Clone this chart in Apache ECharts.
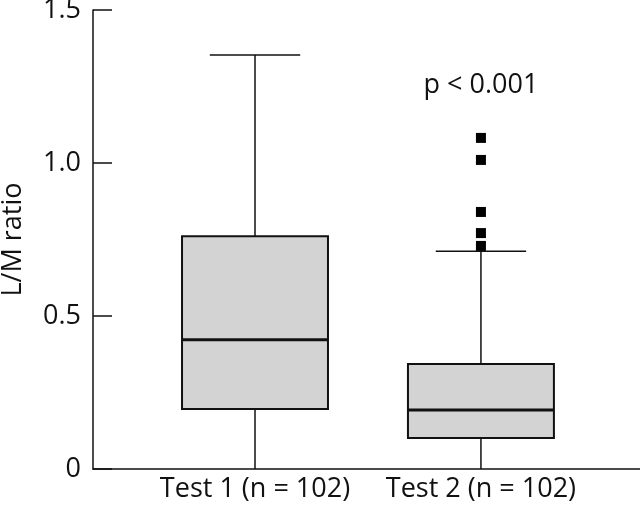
<!DOCTYPE html>
<html>
<head>
<meta charset="utf-8">
<script src="https://cdn.jsdelivr.net/npm/echarts@6/dist/echarts.min.js"></script>
<style>
  html, body { margin: 0; padding: 0; background: #fff; }
  #chart { width: 640px; height: 509px; }
</style>
</head>
<body>
<div id="chart"></div>
<script>
// groups on the x axis
const categories = ['Test 1 (n = 102)', 'Test 2 (n = 102)']
// box statistics per group
const whiskerLow = [0, 0]
const q1 = [0.196, 0.101]
const median = [0.422, 0.193]
const q3 = [0.761, 0.343]
const whiskerHigh = [1.353, 0.712]
// outliers of Test 2
const outliers2 = [1.082, 1.01, 0.84, 0.771, 0.729]
const pText = 'p < 0.001'
const pValueY = 1.255

const font = '"Open Sans", Lato, sans-serif'
const fontSize = 27

const boxData = categories.map((c, i) => [i + 1, whiskerLow[i], q1[i], median[i], q3[i], whiskerHigh[i]])
const outlierData = outliers2.map(v => [2, v])

const chart = echarts.init(document.getElementById('chart'))

const renderBox = (params, api) => {
  const x = api.value(0)
  const halfBox = 0.323
  const halfCap = 0.2
  const pLow = api.coord([x, api.value(1)])
  const pQ1 = api.coord([x, api.value(2)])
  const pMed = api.coord([x, api.value(3)])
  const pQ3 = api.coord([x, api.value(4)])
  const pHigh = api.coord([x, api.value(5)])
  const left = api.coord([x - halfBox, 0])[0]
  const right = api.coord([x + halfBox, 0])[0]
  const capL = api.coord([x - halfCap, 0])[0]
  const capR = api.coord([x + halfCap, 0])[0]
  const children = [
    { type: 'line', shape: { x1: pHigh[0], y1: pHigh[1], x2: pQ3[0], y2: pQ3[1] }, style: { stroke: '#111', lineWidth: 1.5 } },
    { type: 'line', shape: { x1: pLow[0], y1: pLow[1], x2: pQ1[0], y2: pQ1[1] }, style: { stroke: '#111', lineWidth: 1.5 } },
    { type: 'line', shape: { x1: capL, y1: pHigh[1], x2: capR, y2: pHigh[1] }, style: { stroke: '#111', lineWidth: 1.5 } },
    { type: 'rect', shape: { x: left, y: pQ3[1], width: right - left, height: pQ1[1] - pQ3[1] }, style: { fill: '#d3d3d3', stroke: '#111', lineWidth: 2 } },
    { type: 'line', shape: { x1: left, y1: pMed[1], x2: right, y2: pMed[1] }, style: { stroke: '#111', lineWidth: 3 } }
  ]
  if (params.dataIndex === 1) {
    const pt = api.coord([x, pValueY])
    children.push({
      type: 'text',
      style: { x: pt[0], y: pt[1], text: pText, fill: '#111', font: fontSize + 'px ' + font, align: 'center', verticalAlign: 'middle' }
    })
  }
  return { type: 'group', children }
}

chart.setOption({
  animation: false,
  textStyle: { fontFamily: font },
  grid: { left: 93, right: 0, top: 10, bottom: 40, outerBoundsMode: 'none', containLabel: false },
  xAxis: {
    type: 'value',
    min: 0.283,
    max: 2.704,
    splitLine: { show: false },
    axisLine: { show: true, lineStyle: { color: '#111', width: 1.5 } },
    axisTick: { show: false },
    axisLabel: {
      customValues: [1, 2],
      formatter: v => categories[Math.round(v) - 1] || '',
      color: '#111',
      fontSize: fontSize,
      margin: 7
    }
  },
  yAxis: {
    type: 'value',
    min: 0,
    max: 1.5,
    interval: 0.5,
    name: 'L/M ratio',
    nameLocation: 'middle',
    nameGap: 66,
    nameTextStyle: { color: '#111', fontSize: fontSize },
    splitLine: { show: false },
    axisLine: { show: true, lineStyle: { color: '#111', width: 1.5 } },
    axisTick: { show: true, inside: true, length: 19, lineStyle: { color: '#111', width: 1.5 } },
    axisLabel: {
      color: '#111',
      fontSize: fontSize,
      margin: 12,
      formatter: v => (v === 0 ? '0' : v.toFixed(1))
    }
  },
  series: [
    {
      type: 'custom',
      data: boxData,
      encode: { x: 0, y: [1, 2, 3, 4, 5] },
      renderItem: renderBox,
      z: 2
    },
    {
      type: 'scatter',
      data: outlierData,
      symbol: 'rect',
      symbolSize: 10,
      itemStyle: { color: '#000', opacity: 1 },
      z: 3
    }
  ]
})
</script>
</body>
</html>
